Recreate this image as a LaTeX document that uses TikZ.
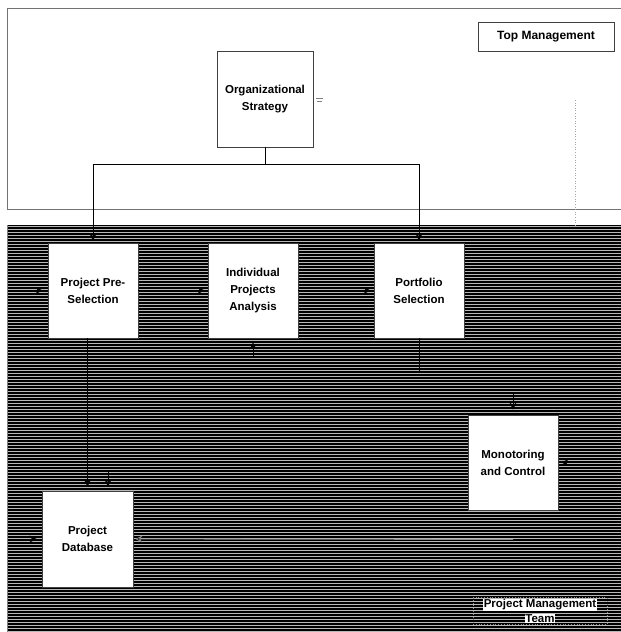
\documentclass[tikz,border=0pt]{standalone}
\usepackage{fontspec}
\setmainfont{Liberation Sans}
\usetikzlibrary{arrows.meta}
\setlength{\fboxsep}{0.6pt}
\begin{document}
\begin{tikzpicture}[x=1pt,y=-1pt,
  box/.style={draw=black!75, line width=0.8pt, fill=white, minimum width=90pt, minimum height=95pt, inner sep=2pt, align=center, font=\fontsize{11.5}{17}\selectfont\bfseries},
  conn/.style={draw=black, line width=1pt},
  tip/.style={-{Stealth[length=7pt,width=7pt]}},
  hatch/.style={draw=white!72!black, line width=0.8pt},
  frame/.style={draw=black!55, line width=0.8pt},
]
\useasboundingbox (0,0) rectangle (621,632);
% top management zone
\draw[frame] (625,8.5) -- (7.5,8.5) -- (7.5,209) -- (625,209);
% project management team zone (hatched)
\fill[black] (7.5,225) rectangle (621,632);
\foreach \k in {0,...,135} { \draw[hatch] (8,{226.5+3*\k}) -- (621,{226.5+3*\k}); }
\draw[black!50, line width=0.6pt] (7.5,225) -- (7.5,632);
% dotted divider
\draw[gray!70, line width=0.6pt, dotted] (575,100) -- (575,225);
% stray mark
\draw[gray, line width=0.6pt] (316,98) -- (323,98) (317,101) -- (322,101);

% nodes
\node[box, minimum width=136pt, minimum height=29pt, font=\fontsize{12}{14}\selectfont\bfseries] (topm) at (546,36.5) {Top Management};
\node[box, minimum width=96pt, minimum height=96pt] (org) at (265,99) {Organizational\\Strategy};
\node[box] (pre) at (93,290.5) {Project Pre-\\Selection};
\node[box] (ind) at (253,290.5) {Individual\\Projects\\Analysis};
\node[box] (port) at (419,290.5) {Portfolio\\Selection};
\node[box] (mon) at (513,462.5) {Monotoring\\and Control};
\node[box, minimum width=91pt, minimum height=96pt] (db) at (87.5,539) {Project\\Database};
\node[draw=white!55!black, dotted, line width=0.8pt, minimum width=134pt, inner sep=1pt, align=center, font=\fontsize{11.5}{15}\selectfont\bfseries] (pmt) at (540,611) {\colorbox{white}{Project Management}\\\colorbox{white}{Team}};

% connectors
\coordinate (split) at (265,164);
\draw[conn] (org.south) -- (split);
\draw[conn, tip, shorten >=2pt] (split) -| (pre.north);
\draw[conn, tip, shorten >=2pt] (split) -| (port.north);
\draw[conn, tip, shorten >=3pt] (pre.east) -- (ind.west);
\draw[conn, tip, shorten >=3pt] (ind.east) -- (port.west);
\coordinate (inpre) at (22,290.5);
\draw[conn, tip, shorten >=5pt] (inpre) -- (pre.west);
\draw[conn, tip, shorten >=4pt] (pre.south -| db.north) -- (db.north);
\coordinate (dbin) at (108,470);
\draw[conn, tip, shorten >=4pt] (dbin) -- (dbin |- db.north);
\coordinate (indin) at (253,358);
\draw[conn, tip, shorten >=4pt] (indin) -- (ind.south);
\coordinate (portend) at (419,373);
\draw[conn] (port.south) -- (portend);
\coordinate (monin) at (513,392);
\draw[conn, tip, shorten >=5pt] (monin) -- (mon.north);
\coordinate (monr) at (585,462.5);
\draw[conn, tip, shorten >=3pt] (monr) -- (mon.east);
\coordinate (dbl) at (18,539);
\draw[conn, tip, shorten >=5pt] (dbl) -- (db.west);
\coordinate (dbr) at (513,539.5);
\draw[draw=black!45, line width=0.8pt, -{Stealth[length=7pt,width=7pt,fill=black]}, shorten >=2pt] (dbr) -- (db.east);
\end{tikzpicture}
\end{document}
